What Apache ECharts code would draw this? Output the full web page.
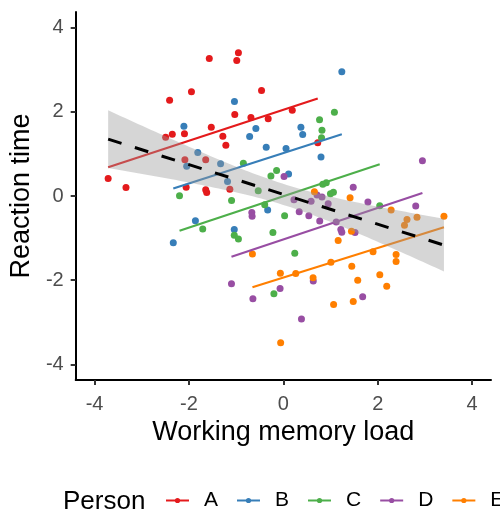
<!DOCTYPE html>
<html><head><meta charset="utf-8">
<script src="https://cdn.jsdelivr.net/npm/echarts@6/dist/echarts.min.js"></script>
<style>html,body{margin:0;padding:0;background:#fff}#c{width:500px;height:514px}</style>
</head><body><div id="c"></div>
<script>
const persons = ['A', 'B', 'C', 'D', 'E'];
const colors = ['#E41A1C', '#377EB8', '#4DAF4A', '#984EA3', '#FF7F00'];
const xTicks = [-4, -2, 0, 2, 4];
const yTicks = [-4, -2, 0, 2, 4];

const xA = [-3.712,-3.334,-2.494,-2.353,-2.410,-2.095,-2.086,-2.059,-1.947,-1.645,-1.645,-1.624,-1.569,-1.527,-1.282,-1.218,-1.134,-1.029,-0.987,-0.952,-0.687,-0.462,-0.321,0.189,0.729];
const yA = [0.416,0.202,1.397,1.468,2.276,1.477,0.860,0.209,2.475,0.860,0.147,0.083,3.266,1.634,1.420,1.207,0.162,1.936,3.219,3.401,1.865,2.506,1.834,2.038,1.264];
const xB = [-2.332,-2.107,-2.048,-1.863,-1.813,-1.330,-1.183,-1.040,-1.036,-0.714,-0.582,-0.363,-0.332,0.057,0.111,0.372,0.410,0.798,1.239];
const yB = [-1.112,1.658,0.708,-0.589,1.033,0.765,0.344,-0.796,2.245,1.413,1.603,1.159,-0.333,1.128,0.523,1.634,1.461,0.926,2.950];
const xC = [-2.200,-1.708,-1.097,-1.040,-0.952,-0.847,-0.532,-0.395,-0.263,-0.143,-0.221,-0.200,0.027,0.242,0.767,0.809,0.819,0.836,0.910,0.998,1.061,1.082,2.042];
const yC = [0.007,-0.784,-0.107,-0.933,-1.021,0.777,0.124,-0.207,0.475,0.606,-0.867,-2.323,-0.470,-1.359,1.810,1.385,1.561,0.278,0.316,0.055,0.090,1.990,-0.233];
const xD = [-1.099,-0.668,-0.662,-0.645,-0.069,0.015,0.225,0.336,0.384,0.540,0.588,0.714,0.819,0.634,0.771,0.950,1.120,1.218,1.239,1.481,1.519,1.681,1.792,2.805,2.947];
const yD = [-2.086,-0.392,-0.480,-2.442,-2.197,0.463,-0.090,-0.373,-2.922,-0.470,-0.124,0.024,-0.024,-2.019,-0.594,-0.183,-0.618,-0.796,-0.860,0.209,-0.867,-2.394,-0.143,-0.238,0.836];
const xE = [-0.655,-0.063,-0.057,0.263,0.630,0.658,1.008,1.065,1.162,1.414,1.443,1.450,1.481,1.576,1.901,2.044,2.191,2.284,2.389,2.389,2.567,2.620,2.832,3.403];
const yE = [-1.378,-1.834,-3.487,-1.841,-1.943,0.100,-1.572,-2.577,-1.057,-0.043,-0.836,-1.667,-2.506,-2.000,-1.325,-1.869,-2.143,-0.333,-1.390,-1.556,-0.694,-0.558,-0.504,-0.482];

// fitted per-person lines (value at the person's smallest and largest load)
const lineStartY = [0.684, 0.178, -0.827, -1.444, -2.166];
const lineEndY = [2.316, 1.468, 0.755, 0.071, -0.741];

const xs = [xA, xB, xC, xD, xE];
const ys = [yA, yB, yC, yD, yE];
const FONT = 'Liberation Sans';

// overall linear fit with 95% confidence band (as geom_smooth(method = "lm"))
const allX = [].concat(...xs), allY = [].concat(...ys);
const n = allX.length;
const mx = allX.reduce((a, b) => a + b, 0) / n, my = allY.reduce((a, b) => a + b, 0) / n;
let sxx = 0, sxy = 0;
for (let i = 0; i < n; i++) { sxx += (allX[i] - mx) ** 2; sxy += (allX[i] - mx) * (allY[i] - my); }
const slope = sxy / sxx, icpt = my - slope * mx;
let sse = 0;
for (let i = 0; i < n; i++) sse += (allY[i] - icpt - slope * allX[i]) ** 2;
const sres = Math.sqrt(sse / (n - 2));
const tq = 1.981;
const xmin = Math.min(...allX), xmax = Math.max(...allX);
const bandX = [], bandLo = [], bandHi = [];
for (let k = 0; k < 80; k++) {
  const x = xmin + (xmax - xmin) * k / 79;
  const f = icpt + slope * x;
  const h = tq * sres * Math.sqrt(1 / n + (x - mx) ** 2 / sxx);
  bandX.push(x); bandLo.push(f - h); bandHi.push(f + h);
}

const series = [];
persons.forEach((p, i) => {
  const x0 = Math.min(...xs[i]), x1 = Math.max(...xs[i]);
  series.push({
    name: p, type: 'line', z: 3, symbol: 'circle', showSymbol: false, silent: true,
    data: [[x0, lineStartY[i]], [x1, lineEndY[i]]],
    lineStyle: { color: colors[i], width: 2.2 }, itemStyle: { color: colors[i] }
  });
});
persons.forEach((p, i) => {
  series.push({
    name: p, type: 'scatter', z: 2, symbol: 'circle', symbolSize: 7, silent: true,
    data: xs[i].map((x, j) => [x, ys[i][j]]),
    itemStyle: { color: colors[i], opacity: 1 }
  });
});
series.push({
  type: 'custom', z: 4, silent: true, data: [[0, 0]],
  renderItem: function (params, api) {
    const pts = [];
    for (let k = 0; k < bandX.length; k++) pts.push(api.coord([bandX[k], bandHi[k]]));
    for (let k = bandX.length - 1; k >= 0; k--) pts.push(api.coord([bandX[k], bandLo[k]]));
    return { type: 'polygon', shape: { points: pts }, style: { fill: 'rgba(153,153,153,0.4)' } };
  }
});
series.push({
  type: 'line', z: 5, symbol: 'none', silent: true,
  data: [[xmin, icpt + slope * xmin], [xmax, icpt + slope * xmax]],
  lineStyle: { color: '#000', width: 3, type: [14, 14] }
});

const chart = echarts.init(document.getElementById('c'), null, { renderer: 'canvas' });
chart.setOption({
  animation: false,
  backgroundColor: '#fff',
  grid: { left: 72, right: 9, top: 12, bottom: 134, containLabel: false },
  xAxis: {
    type: 'value', min: -4.4, max: 4.4,
    name: 'Working memory load', nameLocation: 'middle', nameGap: 39,
    nameTextStyle: { fontSize: 27, color: '#000', fontFamily: FONT },
    axisLine: { show: true, onZero: false, lineStyle: { color: '#000', width: 2 } },
    axisTick: { show: true, length: 5, customValues: xTicks, lineStyle: { color: '#333', width: 2 } },
    axisLabel: { customValues: xTicks, fontSize: 20, color: '#4D4D4D', fontFamily: FONT, margin: 14 },
    splitLine: { show: false }
  },
  yAxis: {
    type: 'value', min: -4.37, max: 4.37,
    name: 'Reaction time', nameLocation: 'middle', nameGap: 38, nameRotate: 90,
    nameTextStyle: { fontSize: 27, color: '#000', fontFamily: FONT },
    axisLine: { show: true, onZero: false, lineStyle: { color: '#000', width: 2 } },
    axisTick: { show: true, length: 5, customValues: yTicks, lineStyle: { color: '#333', width: 2 } },
    axisLabel: { customValues: yTicks, fontSize: 20, color: '#4D4D4D', fontFamily: FONT, margin: 12 },
    splitLine: { show: false }
  },
  legend: {
    data: persons, orient: 'horizontal', left: 165, top: 490, width: 420, padding: 0,
    selectedMode: false, itemWidth: 23, itemHeight: 6.5, itemGap: 18,
    textStyle: { fontSize: 21, color: '#000', fontFamily: FONT, padding: [0, 0, 0, 10] }
  },
  graphic: [{
    type: 'text', x: 63, y: 502,
    style: { text: 'Person', fontSize: 26, fontFamily: FONT, fill: '#000', verticalAlign: 'middle' }
  }],
  series: series
});
</script></body></html>
